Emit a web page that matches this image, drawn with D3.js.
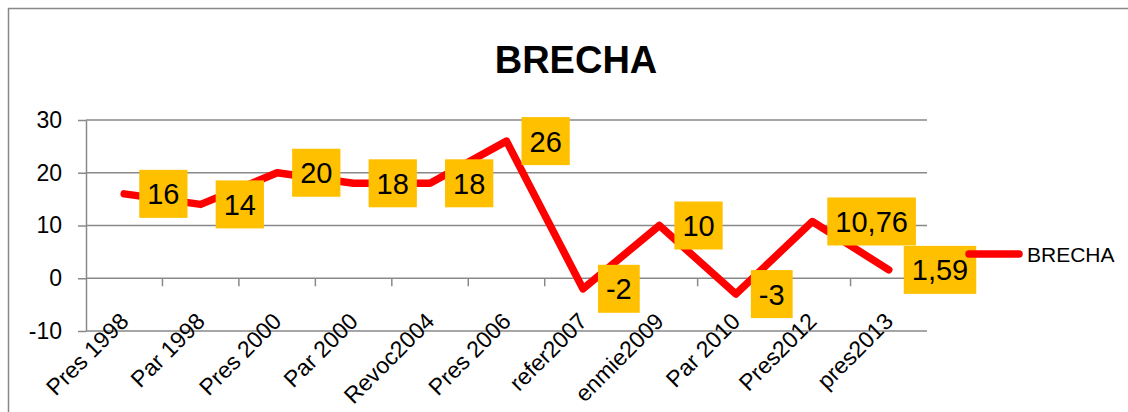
<!DOCTYPE html>
<html>
<head>
<meta charset="utf-8">
<script src="https://cdn.jsdelivr.net/npm/d3@7"></script>
<style>
  body { margin: 0; background: #fff; }
  text { font-family: "Liberation Sans", Arial, sans-serif; fill: #000; }
</style>
</head>
<body>
<script>
const categories = ["Pres 1998", "Par 1998", "Pres 2000", "Par 2000", "Revoc2004", "Pres 2006",
  "refer2007", "enmie2009", "Par 2010", "Pres2012", "pres2013"];
const brecha = [16, 14, 20, 18, 18, 26, -2, 10, -3, 10.76, 1.59];
const yTicks = [-10, 0, 10, 20, 30];
const seriesName = "BRECHA";
const title = "BRECHA";

const W = 1128, H = 412;
const plot = { left: 86, right: 927, top: 120, bottom: 331 };
const gridColor = "#898989";

const svg = d3.select("body").append("svg")
  .attr("width", W)
  .attr("height", H);

// outer chart border
svg.append("rect")
  .attr("x", 8.5).attr("y", 8.5)
  .attr("width", W + 20).attr("height", H + 20)
  .attr("fill", "none")
  .attr("stroke", "#878787")
  .attr("stroke-width", 1.5);

const x = d3.scaleBand().domain(categories).range([plot.left, plot.right]).padding(0);
const y = d3.scaleLinear().domain([-10, 30]).range([plot.bottom, plot.top]);
const cx = d => x(d) + x.bandwidth() / 2;

// horizontal gridlines
svg.append("g")
  .selectAll("line")
  .data(yTicks)
  .enter().append("line")
  .attr("x1", plot.left).attr("x2", plot.right)
  .attr("y1", d => y(d)).attr("y2", d => y(d))
  .attr("stroke", gridColor)
  .attr("stroke-width", 1.5);

// vertical axis
const yAxis = svg.append("g")
  .attr("transform", `translate(${plot.left},0)`)
  .call(d3.axisLeft(y).tickValues(yTicks).tickFormat(d => String(d))
    .tickSize(8).tickSizeOuter(0).tickPadding(16));
yAxis.selectAll("line, path").attr("stroke", gridColor).attr("stroke-width", 1.5);
yAxis.selectAll("text")
  .style("font-family", "'Liberation Sans', Arial, sans-serif")
  .style("font-size", "23px")
  .attr("fill", "#000");

// category ticks on the zero line
svg.append("g")
  .selectAll("line")
  .data(categories)
  .enter().append("line")
  .attr("x1", d => x(d) + x.bandwidth()).attr("x2", d => x(d) + x.bandwidth())
  .attr("y1", y(0)).attr("y2", y(0) + 8)
  .attr("stroke", gridColor)
  .attr("stroke-width", 1.5);

// category labels, rotated
svg.append("g")
  .selectAll("text")
  .data(categories)
  .enter().append("text")
  .attr("transform", d => `translate(${cx(d)},317) rotate(-45)`)
  .attr("text-anchor", "end")
  .attr("dy", "0.35em")
  .style("font-size", "23px")
  .text(d => d);

// the line
const pts = categories.map((c, i) => ({ c, v: brecha[i] }));
svg.append("path")
  .datum(pts)
  .attr("fill", "none")
  .attr("stroke", "#ff0000")
  .attr("stroke-width", 7.5)
  .attr("stroke-linejoin", "round")
  .attr("stroke-linecap", "round")
  .attr("d", d3.line().x(d => cx(d.c)).y(d => y(d.v)));

// data labels
const fmt = v => String(v).replace(".", ",");
const labels = svg.append("g")
  .selectAll("g")
  .data(pts)
  .enter().append("g")
  .attr("transform", d => `translate(${cx(d.c) + 15},${y(d.v)})`);

labels.append("text")
  .attr("x", 8)
  .attr("dy", "0.36em")
  .style("font-size", "29px")
  .text(d => fmt(d.v));

labels.each(function() {
  const g = d3.select(this);
  const w = g.select("text").node().getComputedTextLength();
  g.insert("rect", "text")
    .attr("x", 0).attr("y", -24)
    .attr("width", w + 16).attr("height", 48)
    .attr("fill", "#ffc000");
});

// legend
svg.append("line")
  .attr("x1", 969).attr("x2", 1019)
  .attr("y1", 254).attr("y2", 254)
  .attr("stroke", "#ff0000")
  .attr("stroke-width", 7.5)
  .attr("stroke-linecap", "round");

svg.append("text")
  .attr("x", 1027).attr("y", 262)
  .style("font-size", "21px")
  .text(seriesName);

// title
svg.append("text")
  .attr("x", 576).attr("y", 73)
  .attr("text-anchor", "middle")
  .style("font-size", "38px")
  .style("font-weight", "bold")
  .text(title);
</script>
</body>
</html>
